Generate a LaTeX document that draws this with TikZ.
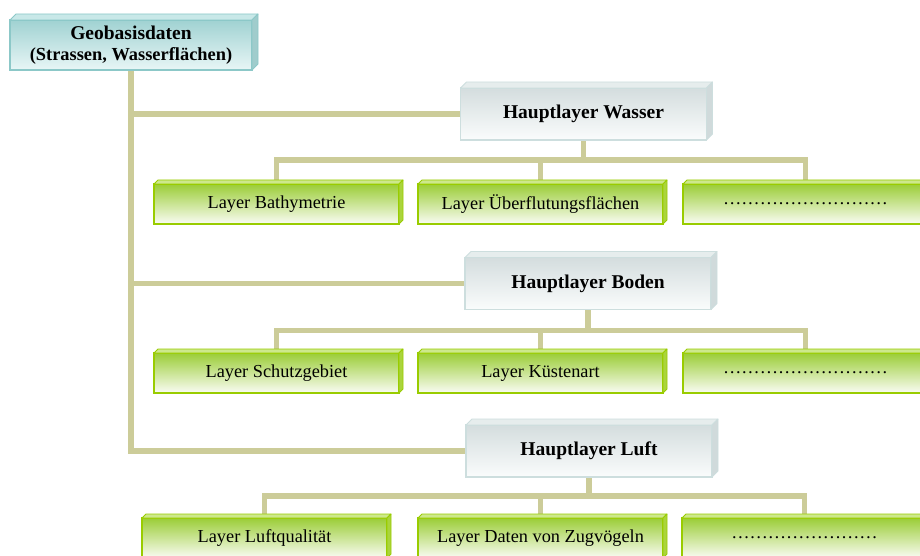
\documentclass[tikz,border=0pt]{standalone}
\usepackage{fontspec}
\setmainfont{Liberation Serif}
\usetikzlibrary{calc,backgrounds}
\definecolor{trunkTan}{RGB}{204,204,153}
\definecolor{leafEdge}{RGB}{153,204,0}
\definecolor{leafTop}{RGB}{155,205,55}
\definecolor{leafBottom}{RGB}{250,252,244}
\definecolor{leafLid}{RGB}{205,232,140}
\definecolor{leafSide}{RGB}{170,212,60}
\definecolor{mainEdge}{RGB}{205,222,222}
\definecolor{mainTop}{RGB}{212,221,222}
\definecolor{mainBottom}{RGB}{250,252,252}
\definecolor{mainLid}{RGB}{230,237,237}
\definecolor{mainSide}{RGB}{208,218,219}
\definecolor{rootEdge}{RGB}{140,200,200}
\definecolor{rootTop}{RGB}{160,210,210}
\definecolor{rootBottom}{RGB}{232,246,246}
\definecolor{rootLid}{RGB}{200,232,232}
\definecolor{rootSide}{RGB}{160,204,204}

\tikzset{
  box/.style={rectangle, inner sep=0pt, outer sep=0pt, line width=1.2pt, align=center},
  rootbox/.style={box, draw=rootEdge, top color=rootTop, bottom color=rootBottom,
    minimum width=242pt, minimum height=50pt},
  mainbox/.style={box, draw=mainEdge, top color=mainTop, bottom color=mainBottom,
    minimum width=246pt, minimum height=52pt, font=\fontsize{19.5}{22}\selectfont\bfseries},
  leafbox/.style={box, draw=leafEdge, top color=leafTop, bottom color=leafBottom,
    minimum width=245pt, minimum height=40pt, font=\fontsize{18.3}{21}\selectfont},
  link/.style={trunkTan, line width=5.5pt}
}

\begin{document}
\begin{tikzpicture}[x=1pt, y=-1pt]
      \useasboundingbox (0,0) rectangle (920,556);
      % top and main layers
      \node[rootbox, font=\bfseries\fontsize{18.4}{21}\selectfont] (geo) at (131,45)
        {{\fontsize{19.5}{21}\selectfont Geobasisdaten}\\(Strassen, Wasserflächen)};
      \node[mainbox] (wasser) at (583.5,114) {Hauptlayer Wasser};
      \node[mainbox] (boden) at (588,283.5) {Hauptlayer Boden};
      \node[mainbox] (luft) at (589,451) {Hauptlayer Luft};
      % sub layers
      \node[leafbox] (bathy) at (276.5,204) {Layer Bathymetrie};
      \node[leafbox] (flut) at (540.5,204) {Layer Überflutungsflächen};
      \node[leafbox] (more1) at (805.5,204) {\foreach \k in {1,...,9}{…}};
      \node[leafbox] (schutz) at (276.5,373) {Layer Schutzgebiet};
      \node[leafbox] (kueste) at (540.5,373) {Layer Küstenart};
      \node[leafbox] (more2) at (805.5,373) {\foreach \k in {1,...,9}{…}};
      \node[leafbox] (luftq) at (264.5,538) {Layer Luftqualität};
      \node[leafbox] (zug) at (540.5,538) {Layer Daten von Zugvögeln};
      \node[leafbox] (more3) at (804.5,538) {\foreach \k in {1,...,8}{…}};
      % bevel faces
      \foreach \n/\d/\lid/\side/\edge in {geo/6/rootLid/rootSide/rootEdge,
          wasser/6/mainLid/mainSide/mainEdge, boden/6/mainLid/mainSide/mainEdge,
          luft/6/mainLid/mainSide/mainEdge,
          bathy/4/leafLid/leafSide/leafEdge, flut/4/leafLid/leafSide/leafEdge,
          more1/4/leafLid/leafSide/leafEdge, schutz/4/leafLid/leafSide/leafEdge,
          kueste/4/leafLid/leafSide/leafEdge, more2/4/leafLid/leafSide/leafEdge,
          luftq/4/leafLid/leafSide/leafEdge, zug/4/leafLid/leafSide/leafEdge,
          more3/4/leafLid/leafSide/leafEdge} {
        \filldraw[fill=\lid, draw=\edge, line width=0.8pt, line join=round]
          (\n.north west) -- ++(\d,-\d) -- ([shift={(\d,-\d)}]\n.north east) -- (\n.north east) -- cycle;
        \filldraw[fill=\side, draw=\edge, line width=0.8pt, line join=round]
          (\n.north east) -- ++(\d,-\d) -- ([shift={(\d,-\d)}]\n.south east) -- (\n.south east) -- cycle;
      }
      % connectors
      \begin{scope}[on background layer]
        \draw[link] (geo.south) |- (wasser.west);
        \draw[link] (geo.south) |- (boden.west);
        \draw[link] (geo.south) |- (luft.west);
        \foreach \top/\gap/\a/\b/\c in {wasser/20/bathy/flut/more1,
            boden/21/schutz/kueste/more2, luft/19/luftq/zug/more3}
          \foreach \leaf in {\a,\b,\c}
            \draw[link] (\top.south) -- ++(0,\gap) -| (\leaf.north);
      \end{scope}
    \end{tikzpicture}
\end{document}
